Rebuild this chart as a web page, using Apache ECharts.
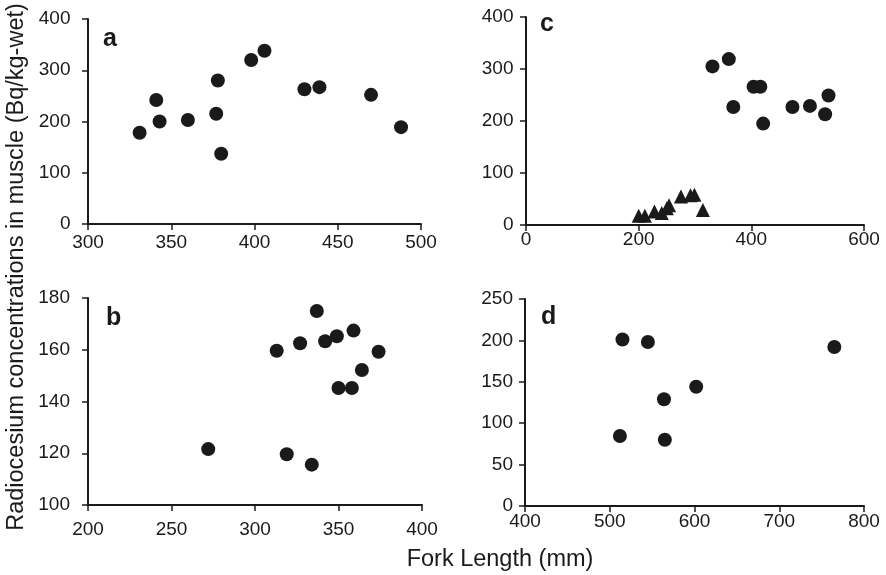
<!DOCTYPE html>
<html>
<head>
<meta charset="utf-8">
<script src="https://cdn.jsdelivr.net/npm/echarts@6/dist/echarts.min.js"></script>
<style>
html,body{margin:0;padding:0;background:#fff;}
#chart{width:886px;height:575px;}
</style>
</head>
<body>
<div id="chart"></div>
<script>
// Panel a
const aX = [331, 341, 343, 360, 377, 378, 380, 398, 406, 430, 439, 470, 488];
const aY = [178, 242, 200, 203, 215, 280, 137, 320, 338, 263, 267, 252, 189];
// Panel b
const bX = [313, 327, 337, 342, 349, 359, 374, 364, 350, 358, 272, 319, 334];
const bY = [159.6, 162.5, 175, 163.3, 165.2, 167.4, 159.2, 152.2, 145.2, 145.2, 121.6, 119.6, 115.6];
// Panel c (circles and triangles)
const cCircX = [331, 360, 368, 404, 416, 421, 473, 504, 531, 537];
const cCircY = [305, 319, 227, 266, 266, 195, 227, 229, 213, 249];
const cTriX = [200, 211, 228, 241, 250, 254, 275, 292, 299, 314];
const cTriY = [18, 18, 26, 23, 32, 38, 55, 57, 58, 29];
// Panel d
const dX = [515, 545, 765, 602, 564, 512, 565];
const dY = [201, 198, 192, 144, 129, 84.5, 80];

// Axis ranges
const xRanges = [[300, 500, 50], [200, 400, 50], [0, 600, 200], [400, 800, 100]];
const yRanges = [[0, 400, 100], [100, 180, 20], [0, 400, 100], [0, 250, 50]];
const panelLetters = ['a', 'b', 'c', 'd'];

const yTitle = 'Radiocesium concentrations in muscle (Bq/kg-wet)';
const xTitle = 'Fork Length (mm)';

function zip(xs, ys) { return xs.map((x, i) => [x, ys[i]]); }

const INK = '#1a1a1a';
const FONT = 'Liberation Sans, Arial, Helvetica, sans-serif';

const grids = [
  {left: 88, top: 19, width: 333, height: 205},
  {left: 88, top: 298, width: 334, height: 207},
  {left: 526, top: 17, width: 338, height: 208},
  {left: 525, top: 299, width: 339, height: 207}
];
const xLabelMargins = [9, 15, 5, 6];
const yLabelMargins = [17.5, 18, 12.5, 12];

function xAxisFor(i) {
  const r = xRanges[i];
  return {
    type: 'value', gridIndex: i, min: r[0], max: r[1], interval: r[2],
    axisLine: {show: true, onZero: false, lineStyle: {color: INK, width: 2}},
    axisTick: {show: true, inside: false, length: 6, lineStyle: {color: INK, width: 1.5}},
    axisLabel: {color: INK, fontSize: 19, fontFamily: FONT, margin: xLabelMargins[i]},
    splitLine: {show: false}
  };
}
function yAxisFor(i) {
  const r = yRanges[i];
  return {
    type: 'value', gridIndex: i, min: r[0], max: r[1], interval: r[2],
    axisLine: {show: true, onZero: false, lineStyle: {color: INK, width: 2}},
    axisTick: {show: true, inside: false, length: 6, lineStyle: {color: INK, width: 1.5}},
    axisLabel: {color: INK, fontSize: 19, fontFamily: FONT, margin: yLabelMargins[i]},
    splitLine: {show: false}
  };
}

function scatter(idx, data, symbol, size) {
  return {
    type: 'scatter', xAxisIndex: idx, yAxisIndex: idx, data: data,
    symbol: symbol, symbolSize: size,
    itemStyle: {color: INK, opacity: 1},
    silent: true, animation: false
  };
}

const letterPos = [[103, 39], [106, 318], [540, 24], [541, 317]];

const chart = echarts.init(document.getElementById('chart'), null, {renderer: 'canvas'});
chart.setOption({
  backgroundColor: '#fff',
  animation: false,
  grid: grids,
  xAxis: [0, 1, 2, 3].map(xAxisFor),
  yAxis: [0, 1, 2, 3].map(yAxisFor),
  series: [
    scatter(0, zip(aX, aY), 'circle', 14),
    scatter(1, zip(bX, bY), 'circle', 14),
    scatter(2, zip(cCircX, cCircY), 'circle', 14),
    scatter(2, zip(cTriX, cTriY), 'triangle', 14),
    scatter(3, zip(dX, dY), 'circle', 14)
  ],
  graphic: [
    ...panelLetters.map((t, i) => ({
      type: 'text', x: letterPos[i][0], y: letterPos[i][1],
      style: {text: t, fill: INK, font: 'bold 25px ' + FONT, textAlign: 'left', textVerticalAlign: 'middle'}
    })),
    {
      type: 'text', x: 500, y: 560,
      style: {text: xTitle, fill: INK, font: '23.5px ' + FONT, textAlign: 'center', textVerticalAlign: 'middle'}
    },
    {
      type: 'text', x: 17, y: 267, rotation: Math.PI / 2,
      style: {text: yTitle, fill: INK, font: '23.5px ' + FONT, textAlign: 'center', textVerticalAlign: 'middle'}
    }
  ]
});
</script>
</body>
</html>
